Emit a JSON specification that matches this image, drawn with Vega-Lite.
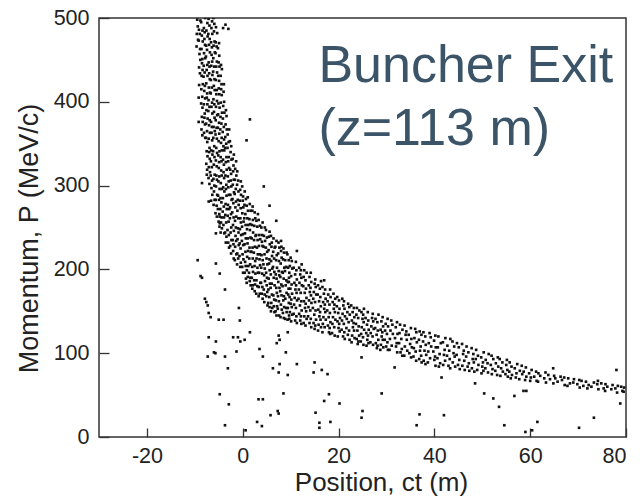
{
"$schema":"https://vega.github.io/schema/vega-lite/v6.json",
"width":527,"height":419,
"autosize":{"type":"none"},
"padding":{"left":99,"top":18,"right":14,"bottom":60},
"background":"white",
"config":{"view":{"stroke":"#333","strokeWidth":1.5},"axis":{"labelFont":"Liberation Sans","labelFontSize":21.5,"labelColor":"#222","titleFont":"Liberation Sans","titleFontSize":26,"titleFontWeight":"normal","titleColor":"#222","domain":false,"grid":false,"tickColor":"#333","tickWidth":1.3}},
"datasets":{"pts":[
{"x":-9.5,"y":498},{"x":-9.38,"y":490},{"x":-9.58,"y":481},{"x":-9.33,"y":474},{"x":-9.64,"y":466},
{"x":-8.83,"y":497},{"x":-9.14,"y":486},{"x":-8.95,"y":481},{"x":-9.18,"y":473},{"x":-8.9,"y":463},{"x":-9.03,"y":457},{"x":-8.85,"y":450},{"x":-9.11,"y":441},{"x":-8.93,"y":434},{"x":-9.2,"y":376},{"x":-9.1,"y":420},{"x":-9.2,"y":405},
{"x":-8.68,"y":495},{"x":-8.4,"y":485},{"x":-8.53,"y":479},{"x":-8.35,"y":472},{"x":-8.61,"y":463},{"x":-8.43,"y":451},{"x":-8.5,"y":446},{"x":-8.38,"y":438},{"x":-8.58,"y":431},{"x":-8.33,"y":421},{"x":-8.64,"y":415},{"x":-8.45,"y":406},{"x":-8.68,"y":398},{"x":-8.4,"y":393},{"x":-8.53,"y":382},{"x":-8.35,"y":376},{"x":-8.61,"y":367},{"x":-8.43,"y":360},
{"x":-7.85,"y":500},{"x":-8.11,"y":488},{"x":-7.93,"y":483},{"x":-8,"y":475},{"x":-7.88,"y":468},{"x":-8.08,"y":458},{"x":-7.83,"y":452},{"x":-8.14,"y":443},{"x":-7.95,"y":435},{"x":-8.18,"y":430},{"x":-7.9,"y":419},{"x":-8.03,"y":413},{"x":-7.85,"y":404},{"x":-8.11,"y":397},{"x":-7.93,"y":386},{"x":-8,"y":381},{"x":-7.88,"y":373},{"x":-8.08,"y":363},{"x":-7.83,"y":357},
{"x":-7.38,"y":494},{"x":-7.58,"y":485},{"x":-7.33,"y":478},{"x":-7.64,"y":467},{"x":-7.45,"y":462},{"x":-7.68,"y":454},{"x":-7.4,"y":444},{"x":-7.53,"y":438},{"x":-7.35,"y":431},{"x":-7.61,"y":422},{"x":-7.43,"y":410},{"x":-7.5,"y":405},{"x":-7.38,"y":397},{"x":-7.58,"y":390},{"x":-7.33,"y":380},{"x":-7.64,"y":374},{"x":-7.45,"y":365},{"x":-7.68,"y":357},{"x":-7.4,"y":352},{"x":-7.53,"y":341},{"x":-7.35,"y":335},{"x":-7.61,"y":326},{"x":-7.43,"y":319},{"x":-7.5,"y":313},
{"x":-7.14,"y":499},{"x":-6.95,"y":491},{"x":-7.18,"y":481},{"x":-6.9,"y":475},{"x":-7.03,"y":468},{"x":-6.85,"y":459},{"x":-7.11,"y":447},{"x":-6.93,"y":442},{"x":-7,"y":434},{"x":-6.88,"y":427},{"x":-7.08,"y":417},{"x":-6.83,"y":411},{"x":-7.14,"y":402},{"x":-6.95,"y":394},{"x":-7.18,"y":389},{"x":-6.9,"y":378},{"x":-7.03,"y":372},{"x":-6.85,"y":363},{"x":-7.11,"y":356},{"x":-6.93,"y":345},{"x":-7,"y":340},{"x":-6.88,"y":332},{"x":-7.08,"y":322},{"x":-6.83,"y":316},{"x":-7.14,"y":309},{"x":-6.95,"y":302},
{"x":-6.4,"y":496},{"x":-6.53,"y":488},{"x":-6.35,"y":481},{"x":-6.61,"y":471},{"x":-6.43,"y":465},{"x":-6.5,"y":456},{"x":-6.38,"y":448},{"x":-6.58,"y":443},{"x":-6.33,"y":432},{"x":-6.64,"y":426},{"x":-6.45,"y":417},{"x":-6.68,"y":410},{"x":-6.4,"y":399},{"x":-6.53,"y":394},{"x":-6.35,"y":386},{"x":-6.61,"y":376},{"x":-6.43,"y":370},{"x":-6.5,"y":363},{"x":-6.38,"y":354},{"x":-6.58,"y":342},{"x":-6.33,"y":337},{"x":-6.64,"y":329},{"x":-6.45,"y":322},{"x":-6.68,"y":312},{"x":-6.4,"y":306},{"x":-6.53,"y":297},{"x":-6.35,"y":289},{"x":-6.61,"y":282},
{"x":-6.11,"y":500},{"x":-5.93,"y":493},{"x":-6,"y":484},{"x":-5.88,"y":472},{"x":-6.08,"y":467},{"x":-5.83,"y":459},{"x":-6.14,"y":452},{"x":-5.95,"y":442},{"x":-6.18,"y":436},{"x":-5.9,"y":427},{"x":-6.03,"y":419},{"x":-5.85,"y":414},{"x":-6.11,"y":403},{"x":-5.93,"y":397},{"x":-6,"y":388},{"x":-5.88,"y":381},{"x":-6.08,"y":370},{"x":-5.83,"y":365},{"x":-6.14,"y":357},{"x":-5.95,"y":347},{"x":-6.18,"y":341},{"x":-5.9,"y":334},{"x":-6.03,"y":325},{"x":-5.85,"y":313},{"x":-6.11,"y":308},{"x":-5.93,"y":300},{"x":-6,"y":293},{"x":-5.88,"y":283},{"x":-6.08,"y":277},
{"x":-5.58,"y":489},{"x":-5.33,"y":482},{"x":-5.64,"y":471},{"x":-5.45,"y":466},{"x":-5.68,"y":458},{"x":-5.4,"y":448},{"x":-5.53,"y":442},{"x":-5.35,"y":435},{"x":-5.61,"y":426},{"x":-5.43,"y":414},{"x":-5.5,"y":409},{"x":-5.38,"y":401},{"x":-5.58,"y":394},{"x":-5.33,"y":384},{"x":-5.64,"y":378},{"x":-5.45,"y":369},{"x":-5.68,"y":361},{"x":-5.4,"y":356},{"x":-5.53,"y":345},{"x":-5.35,"y":339},{"x":-5.61,"y":330},{"x":-5.43,"y":323},{"x":-5.5,"y":312},{"x":-5.38,"y":307},{"x":-5.58,"y":299},{"x":-5.33,"y":289},{"x":-5.64,"y":283},{"x":-5.45,"y":276},{"x":-5.68,"y":267},{"x":-5.4,"y":263},
{"x":-4.95,"y":470},{"x":-5.18,"y":464},{"x":-4.9,"y":455},{"x":-5.03,"y":447},{"x":-4.85,"y":442},{"x":-5.11,"y":431},{"x":-4.93,"y":425},{"x":-5,"y":416},{"x":-4.88,"y":409},{"x":-5.08,"y":398},{"x":-4.83,"y":393},{"x":-5.14,"y":385},{"x":-4.95,"y":375},{"x":-5.18,"y":369},{"x":-4.9,"y":362},{"x":-5.03,"y":353},{"x":-4.85,"y":341},{"x":-5.11,"y":336},{"x":-4.93,"y":328},{"x":-5,"y":321},{"x":-4.88,"y":311},{"x":-5.08,"y":305},{"x":-4.83,"y":296},{"x":-5.14,"y":288},{"x":-4.95,"y":283},{"x":-5.18,"y":272},{"x":-4.9,"y":266},{"x":-5.03,"y":257},{"x":-4.85,"y":251},
{"x":-4.53,"y":444},{"x":-4.35,"y":439},{"x":-4.61,"y":431},{"x":-4.43,"y":421},{"x":-4.5,"y":415},{"x":-4.38,"y":408},{"x":-4.58,"y":399},{"x":-4.33,"y":387},{"x":-4.64,"y":382},{"x":-4.45,"y":374},{"x":-4.68,"y":367},{"x":-4.4,"y":357},{"x":-4.53,"y":351},{"x":-4.35,"y":342},{"x":-4.61,"y":334},{"x":-4.43,"y":329},{"x":-4.5,"y":318},{"x":-4.38,"y":312},{"x":-4.58,"y":303},{"x":-4.33,"y":296},{"x":-4.64,"y":285},{"x":-4.45,"y":280},{"x":-4.68,"y":272},{"x":-4.4,"y":262},{"x":-4.53,"y":256},{"x":-4.35,"y":249},{"x":-4.61,"y":244},
{"x":-3.93,"y":421},{"x":-4,"y":412},{"x":-3.88,"y":400},{"x":-4.08,"y":395},{"x":-3.83,"y":387},{"x":-4.14,"y":380},{"x":-3.95,"y":370},{"x":-4.18,"y":364},{"x":-3.9,"y":355},{"x":-4.03,"y":347},{"x":-3.85,"y":342},{"x":-4.11,"y":331},{"x":-3.93,"y":325},{"x":-4,"y":316},{"x":-3.88,"y":309},{"x":-4.08,"y":298},{"x":-3.83,"y":293},{"x":-4.14,"y":285},{"x":-3.95,"y":275},{"x":-4.18,"y":269},{"x":-3.9,"y":262},{"x":-4.03,"y":253},{"x":-3.85,"y":243},
{"x":-3.5,"y":390},{"x":-3.38,"y":383},{"x":-3.58,"y":373},{"x":-3.33,"y":367},{"x":-3.64,"y":358},{"x":-3.45,"y":350},{"x":-3.68,"y":345},{"x":-3.4,"y":334},{"x":-3.53,"y":328},{"x":-3.35,"y":319},{"x":-3.61,"y":312},{"x":-3.43,"y":301},{"x":-3.5,"y":296},{"x":-3.38,"y":288},{"x":-3.58,"y":278},{"x":-3.33,"y":272},{"x":-3.64,"y":265},{"x":-3.45,"y":256},{"x":-3.68,"y":244},{"x":-3.4,"y":239},{"x":-3.53,"y":232},
{"x":-2.83,"y":367},{"x":-3.14,"y":361},{"x":-2.95,"y":352},{"x":-3.18,"y":345},{"x":-2.9,"y":334},{"x":-3.03,"y":329},{"x":-2.85,"y":321},{"x":-3.11,"y":311},{"x":-2.93,"y":305},{"x":-3,"y":298},{"x":-2.88,"y":289},{"x":-3.08,"y":277},{"x":-2.83,"y":272},{"x":-3.14,"y":264},{"x":-2.95,"y":257},{"x":-3.18,"y":247},{"x":-2.9,"y":241},{"x":-3.03,"y":232},{"x":-2.85,"y":226},
{"x":-2.68,"y":353},{"x":-2.4,"y":347},{"x":-2.53,"y":340},{"x":-2.35,"y":331},{"x":-2.61,"y":319},{"x":-2.43,"y":314},{"x":-2.5,"y":306},{"x":-2.38,"y":299},{"x":-2.58,"y":289},{"x":-2.33,"y":283},{"x":-2.64,"y":274},{"x":-2.45,"y":266},{"x":-2.68,"y":261},{"x":-2.4,"y":250},{"x":-2.53,"y":244},{"x":-2.35,"y":235},{"x":-2.61,"y":228},{"x":-2.43,"y":219},
{"x":-1.85,"y":337},{"x":-2.11,"y":332},{"x":-1.93,"y":324},{"x":-2,"y":317},{"x":-1.88,"y":307},{"x":-2.08,"y":301},{"x":-1.83,"y":292},{"x":-2.14,"y":284},{"x":-1.95,"y":279},{"x":-2.18,"y":268},{"x":-1.9,"y":262},{"x":-2.03,"y":253},{"x":-1.85,"y":246},{"x":-2.11,"y":235},{"x":-1.93,"y":230},{"x":-2,"y":222},{"x":-1.88,"y":213},
{"x":-1.38,"y":329},{"x":-1.58,"y":320},{"x":-1.33,"y":312},{"x":-1.64,"y":307},{"x":-1.45,"y":296},{"x":-1.68,"y":290},{"x":-1.4,"y":281},{"x":-1.53,"y":274},{"x":-1.35,"y":263},{"x":-1.61,"y":258},{"x":-1.43,"y":250},{"x":-1.5,"y":240},{"x":-1.38,"y":234},{"x":-1.58,"y":227},{"x":-1.33,"y":218},{"x":-1.64,"y":211},
{"x":-1.14,"y":317},{"x":-0.95,"y":306},{"x":-1.18,"y":301},{"x":-0.9,"y":293},{"x":-1.03,"y":283},{"x":-0.85,"y":277},{"x":-1.11,"y":270},{"x":-0.93,"y":261},{"x":-1,"y":249},{"x":-0.88,"y":244},{"x":-1.08,"y":236},{"x":-0.83,"y":229},{"x":-1.14,"y":219},{"x":-0.95,"y":213},{"x":-1.18,"y":206},
{"x":-0.4,"y":305},{"x":-0.53,"y":295},{"x":-0.35,"y":289},{"x":-0.61,"y":282},{"x":-0.43,"y":273},{"x":-0.5,"y":261},{"x":-0.38,"y":256},{"x":-0.58,"y":248},{"x":-0.33,"y":241},{"x":-0.64,"y":231},{"x":-0.45,"y":225},{"x":-0.68,"y":216},{"x":-0.4,"y":208},{"x":-0.53,"y":203},
{"x":-0.11,"y":299},{"x":0.07,"y":287},{"x":0,"y":282},{"x":0.12,"y":274},{"x":-0.08,"y":267},{"x":0.17,"y":257},{"x":-0.14,"y":251},{"x":0.05,"y":242},{"x":-0.18,"y":234},{"x":0.1,"y":229},{"x":-0.03,"y":218},{"x":0.15,"y":212},{"x":-0.11,"y":203},{"x":0.07,"y":196},
{"x":0.42,"y":293},{"x":0.67,"y":284},{"x":0.36,"y":277},{"x":0.55,"y":266},{"x":0.32,"y":261},{"x":0.6,"y":253},{"x":0.47,"y":243},{"x":0.65,"y":237},{"x":0.39,"y":230},{"x":0.57,"y":221},{"x":0.5,"y":209},{"x":0.62,"y":204},{"x":0.42,"y":196},{"x":0.67,"y":189},
{"x":1.05,"y":286},{"x":0.82,"y":276},{"x":1.1,"y":270},{"x":0.97,"y":261},{"x":1.15,"y":253},{"x":0.89,"y":248},{"x":1.07,"y":237},{"x":1,"y":231},{"x":1.12,"y":222},{"x":0.92,"y":215},{"x":1.17,"y":204},{"x":0.86,"y":199},{"x":1.05,"y":191},{"x":0.82,"y":184},
{"x":1.47,"y":278},{"x":1.65,"y":270},{"x":1.39,"y":260},{"x":1.57,"y":254},{"x":1.5,"y":247},{"x":1.62,"y":238},{"x":1.42,"y":226},{"x":1.67,"y":221},{"x":1.36,"y":213},{"x":1.55,"y":206},{"x":1.32,"y":196},{"x":1.6,"y":190},{"x":1.47,"y":186},{"x":1.65,"y":181},
{"x":2.07,"y":275},{"x":2,"y":270},{"x":2.12,"y":259},{"x":1.92,"y":253},{"x":2.17,"y":244},{"x":1.86,"y":237},{"x":2.05,"y":226},{"x":1.82,"y":221},{"x":2.1,"y":213},{"x":1.97,"y":203},{"x":2.15,"y":197},{"x":1.89,"y":190},{"x":2.07,"y":181},{"x":2,"y":177},
{"x":2.5,"y":268},{"x":2.62,"y":261},{"x":2.42,"y":252},{"x":2.67,"y":240},{"x":2.36,"y":235},{"x":2.55,"y":227},{"x":2.32,"y":220},{"x":2.6,"y":210},{"x":2.47,"y":204},{"x":2.65,"y":195},{"x":2.39,"y":187},{"x":2.57,"y":182},{"x":2.5,"y":174},
{"x":3.17,"y":266},{"x":2.86,"y":258},{"x":3.05,"y":251},{"x":2.82,"y":241},{"x":3.1,"y":235},{"x":2.97,"y":226},{"x":3.15,"y":218},{"x":2.89,"y":213},{"x":3.07,"y":202},{"x":3.17,"y":196},{"x":2.86,"y":187},{"x":3.05,"y":180},{"x":2.82,"y":171},
{"x":3.32,"y":259},{"x":3.6,"y":252},{"x":3.47,"y":241},{"x":3.65,"y":236},{"x":3.39,"y":228},{"x":3.57,"y":218},{"x":3.5,"y":212},{"x":3.62,"y":205},{"x":3.42,"y":196},{"x":3.67,"y":184},{"x":3.36,"y":179},{"x":3.55,"y":171},{"x":3.32,"y":168},
{"x":4.15,"y":256},{"x":3.89,"y":250},{"x":4.07,"y":241},{"x":4,"y":233},{"x":4.12,"y":228},{"x":3.92,"y":217},{"x":4.17,"y":211},{"x":3.86,"y":202},{"x":4.05,"y":195},{"x":3.82,"y":184},{"x":4.1,"y":179},{"x":3.97,"y":171},{"x":4.15,"y":165},
{"x":4.62,"y":250},{"x":4.42,"y":240},{"x":4.67,"y":234},{"x":4.36,"y":227},{"x":4.55,"y":218},{"x":4.32,"y":206},{"x":4.6,"y":201},{"x":4.47,"y":193},{"x":4.65,"y":186},{"x":4.39,"y":176},{"x":4.57,"y":170},{"x":4.5,"y":161},
{"x":4.86,"y":247},{"x":5.05,"y":238},{"x":4.82,"y":226},{"x":5.1,"y":221},{"x":4.97,"y":213},{"x":5.15,"y":206},{"x":4.89,"y":196},{"x":5.07,"y":190},{"x":5,"y":181},{"x":5.12,"y":173},{"x":4.92,"y":168},{"x":5.17,"y":157},
{"x":5.6,"y":245},{"x":5.47,"y":239},{"x":5.65,"y":230},{"x":5.39,"y":223},{"x":5.57,"y":212},{"x":5.5,"y":207},{"x":5.62,"y":199},{"x":5.42,"y":189},{"x":5.67,"y":183},{"x":5.36,"y":176},{"x":5.55,"y":167},{"x":5.32,"y":160},{"x":5.6,"y":155},
{"x":5.89,"y":240},{"x":6.07,"y":232},{"x":6,"y":227},{"x":6.12,"y":216},{"x":5.92,"y":210},{"x":6.17,"y":201},{"x":5.86,"y":194},{"x":6.05,"y":183},{"x":5.82,"y":178},{"x":6.1,"y":170},{"x":5.97,"y":160},{"x":6.15,"y":154},{"x":5.89,"y":150},
{"x":6.42,"y":237},{"x":6.67,"y":226},{"x":6.36,"y":221},{"x":6.55,"y":213},{"x":6.32,"y":203},{"x":6.6,"y":197},{"x":6.47,"y":190},{"x":6.65,"y":181},{"x":6.39,"y":169},{"x":6.57,"y":164},{"x":6.5,"y":156},{"x":6.62,"y":149},
{"x":7.05,"y":234},{"x":6.82,"y":227},{"x":7.1,"y":217},{"x":6.97,"y":211},{"x":7.15,"y":202},{"x":6.89,"y":194},{"x":7.07,"y":189},{"x":7,"y":178},{"x":7.12,"y":172},{"x":6.92,"y":163},{"x":7.17,"y":156},{"x":6.86,"y":150},{"x":7.05,"y":145},
{"x":7.47,"y":232},{"x":7.65,"y":226},{"x":7.39,"y":219},{"x":7.57,"y":210},{"x":7.5,"y":198},{"x":7.62,"y":193},{"x":7.42,"y":185},{"x":7.67,"y":178},{"x":7.36,"y":168},{"x":7.55,"y":162},{"x":7.32,"y":153},{"x":7.6,"y":145},
{"x":8.07,"y":227},{"x":8,"y":222},{"x":8.12,"y":214},{"x":7.92,"y":207},{"x":8.17,"y":197},{"x":7.86,"y":191},{"x":8.05,"y":182},{"x":7.82,"y":174},{"x":8.1,"y":169},{"x":7.97,"y":158},{"x":8.15,"y":152},{"x":7.89,"y":143},
{"x":8.5,"y":225},{"x":8.62,"y":220},{"x":8.42,"y":212},{"x":8.67,"y":202},{"x":8.36,"y":196},{"x":8.55,"y":189},{"x":8.32,"y":180},{"x":8.6,"y":168},{"x":8.47,"y":163},{"x":8.65,"y":155},{"x":8.39,"y":148},{"x":8.57,"y":142},
{"x":9.17,"y":220},{"x":8.86,"y":211},{"x":9.05,"y":203},{"x":8.82,"y":198},{"x":9.1,"y":187},{"x":8.97,"y":181},{"x":9.15,"y":172},{"x":8.89,"y":165},{"x":9.07,"y":154},{"x":9.17,"y":149},{"x":8.86,"y":141},
{"x":9.32,"y":218},{"x":9.6,"y":211},{"x":9.47,"y":202},{"x":9.65,"y":190},{"x":9.39,"y":185},{"x":9.57,"y":177},{"x":9.5,"y":170},{"x":9.62,"y":160},{"x":9.42,"y":154},{"x":9.67,"y":145},{"x":9.36,"y":140},
{"x":10,"y":214},{"x":10.24,"y":210},{"x":9.84,"y":204},{"x":10.34,"y":201},{"x":9.72,"y":196},{"x":10.1,"y":192},{"x":9.64,"y":185},{"x":10.2,"y":182},{"x":9.94,"y":177},{"x":10.3,"y":171},{"x":9.78,"y":167},{"x":10.14,"y":164},{"x":10,"y":159},{"x":10.24,"y":155},{"x":9.84,"y":149},{"x":10.34,"y":146},{"x":9.72,"y":141},{"x":10.1,"y":138},
{"x":11.1,"y":209},{"x":10.64,"y":202},{"x":11.2,"y":199},{"x":10.94,"y":194},{"x":11.3,"y":188},{"x":10.78,"y":184},{"x":11.14,"y":181},{"x":11,"y":176},{"x":11.24,"y":172},{"x":10.84,"y":166},{"x":11.34,"y":163},{"x":10.72,"y":158},{"x":11.1,"y":154},{"x":10.64,"y":147},{"x":11.2,"y":144},{"x":10.94,"y":139},{"x":11.3,"y":136},
{"x":12.3,"y":206},{"x":11.78,"y":202},{"x":12.14,"y":199},{"x":12,"y":194},{"x":12.24,"y":190},{"x":11.84,"y":184},{"x":12.34,"y":181},{"x":11.72,"y":176},{"x":12.1,"y":172},{"x":11.64,"y":165},{"x":12.2,"y":162},{"x":11.94,"y":157},{"x":12.3,"y":151},{"x":11.78,"y":147},{"x":12.14,"y":144},{"x":12,"y":139},{"x":12.24,"y":135},
{"x":12.84,"y":199},{"x":13.34,"y":196},{"x":12.72,"y":191},{"x":13.1,"y":187},{"x":12.64,"y":180},{"x":13.2,"y":177},{"x":12.94,"y":172},{"x":13.3,"y":166},{"x":12.78,"y":162},{"x":13.14,"y":159},{"x":13,"y":154},{"x":13.24,"y":150},{"x":12.84,"y":144},{"x":13.34,"y":141},{"x":12.72,"y":136},{"x":13.1,"y":133},
{"x":14.2,"y":196},{"x":13.94,"y":191},{"x":14.3,"y":185},{"x":13.78,"y":181},{"x":14.14,"y":178},{"x":14,"y":173},{"x":14.24,"y":169},{"x":13.84,"y":163},{"x":14.34,"y":160},{"x":13.72,"y":155},{"x":14.1,"y":151},{"x":13.64,"y":144},{"x":14.2,"y":141},{"x":13.94,"y":136},{"x":14.3,"y":131},
{"x":15.14,"y":188},{"x":15,"y":183},{"x":15.24,"y":179},{"x":14.84,"y":173},{"x":15.34,"y":170},{"x":14.72,"y":165},{"x":15.1,"y":161},{"x":14.64,"y":154},{"x":15.2,"y":151},{"x":14.94,"y":146},{"x":15.3,"y":140},{"x":14.78,"y":136},{"x":15.14,"y":133},{"x":15,"y":129},
{"x":16.34,"y":186},{"x":15.72,"y":181},{"x":16.1,"y":177},{"x":15.64,"y":170},{"x":16.2,"y":167},{"x":15.94,"y":162},{"x":16.3,"y":156},{"x":15.78,"y":152},{"x":16.14,"y":149},{"x":16,"y":144},{"x":16.24,"y":140},{"x":15.84,"y":134},{"x":16.34,"y":131},{"x":15.72,"y":127},
{"x":16.64,"y":179},{"x":17.2,"y":176},{"x":16.94,"y":171},{"x":17.3,"y":165},{"x":16.78,"y":161},{"x":17.14,"y":158},{"x":17,"y":153},{"x":17.24,"y":149},{"x":16.84,"y":143},{"x":17.34,"y":140},{"x":16.72,"y":135},{"x":17.1,"y":131},{"x":16.64,"y":125},
{"x":18.24,"y":176},{"x":17.84,"y":170},{"x":18.34,"y":167},{"x":17.72,"y":162},{"x":18.1,"y":158},{"x":17.64,"y":151},{"x":18.2,"y":148},{"x":17.94,"y":143},{"x":18.3,"y":137},{"x":17.78,"y":133},{"x":18.14,"y":130},{"x":18,"y":125},{"x":18.24,"y":123},
{"x":18.94,"y":171},{"x":19.3,"y":165},{"x":18.78,"y":161},{"x":19.14,"y":158},{"x":19,"y":153},{"x":19.24,"y":149},{"x":18.84,"y":143},{"x":19.34,"y":140},{"x":18.72,"y":135},{"x":19.1,"y":131},{"x":18.64,"y":124},{"x":19.2,"y":121},
{"x":19.72,"y":167},{"x":20.1,"y":163},{"x":19.64,"y":156},{"x":20.2,"y":153},{"x":19.94,"y":148},{"x":20.3,"y":142},{"x":19.78,"y":138},{"x":20.14,"y":135},{"x":20,"y":130},{"x":20.24,"y":126},{"x":19.84,"y":120},
{"x":20.78,"y":165},{"x":21.14,"y":162},{"x":21,"y":157},{"x":21.24,"y":153},{"x":20.84,"y":147},{"x":21.34,"y":144},{"x":20.72,"y":139},{"x":21.1,"y":135},{"x":20.64,"y":128},{"x":21.2,"y":125},{"x":20.94,"y":120},{"x":21.3,"y":117},
{"x":22,"y":159},{"x":22.24,"y":155},{"x":21.84,"y":149},{"x":22.34,"y":146},{"x":21.72,"y":141},{"x":22.1,"y":137},{"x":21.64,"y":130},{"x":22.2,"y":127},{"x":21.94,"y":122},{"x":22.3,"y":116},
{"x":22.64,"y":157},{"x":23.2,"y":154},{"x":22.94,"y":149},{"x":23.3,"y":143},{"x":22.78,"y":139},{"x":23.14,"y":136},{"x":23,"y":131},{"x":23.24,"y":127},{"x":22.84,"y":121},{"x":23.34,"y":118},{"x":22.72,"y":113},
{"x":23.84,"y":154},{"x":24.34,"y":151},{"x":23.72,"y":146},{"x":24.1,"y":142},{"x":23.64,"y":135},{"x":24.2,"y":132},{"x":23.94,"y":127},{"x":24.3,"y":121},{"x":23.78,"y":117},{"x":24.14,"y":114},{"x":24,"y":111},
{"x":25.3,"y":153},{"x":24.78,"y":149},{"x":25.14,"y":146},{"x":25,"y":141},{"x":25.24,"y":137},{"x":24.84,"y":131},{"x":25.34,"y":128},{"x":24.72,"y":123},{"x":25.1,"y":119},{"x":24.64,"y":114},{"x":25.2,"y":110},
{"x":26.1,"y":149},{"x":25.64,"y":142},{"x":26.2,"y":139},{"x":25.94,"y":134},{"x":26.3,"y":128},{"x":25.78,"y":124},{"x":26.14,"y":121},{"x":26,"y":116},{"x":26.24,"y":112},{"x":25.84,"y":109},
{"x":27.14,"y":147},{"x":27,"y":142},{"x":27.24,"y":138},{"x":26.84,"y":132},{"x":27.34,"y":129},{"x":26.72,"y":124},{"x":27.1,"y":120},{"x":26.64,"y":113},{"x":27.2,"y":110},
{"x":28.34,"y":146},{"x":27.72,"y":141},{"x":28.1,"y":137},{"x":27.64,"y":130},{"x":28.2,"y":127},{"x":27.94,"y":122},{"x":28.3,"y":116},{"x":27.78,"y":112},{"x":28.14,"y":109},{"x":28,"y":106},
{"x":29.2,"y":143},{"x":28.94,"y":138},{"x":29.3,"y":132},{"x":28.78,"y":128},{"x":29.14,"y":125},{"x":29,"y":120},{"x":29.24,"y":116},{"x":28.84,"y":110},{"x":29.34,"y":107},{"x":28.72,"y":104},
{"x":30.24,"y":141},{"x":29.84,"y":135},{"x":30.34,"y":132},{"x":29.72,"y":127},{"x":30.1,"y":123},{"x":29.64,"y":116},{"x":30.2,"y":113},{"x":29.94,"y":108},{"x":30.3,"y":104},
{"x":31,"y":139},{"x":31.24,"y":134},{"x":30.84,"y":127},{"x":31.34,"y":123},{"x":30.72,"y":117},{"x":31.1,"y":109},{"x":30.64,"y":104},
{"x":32.2,"y":137},{"x":31.94,"y":131},{"x":32.3,"y":123},{"x":31.78,"y":118},{"x":32.14,"y":112},{"x":32,"y":108},{"x":32.24,"y":101},
{"x":32.84,"y":134},{"x":33.34,"y":128},{"x":32.72,"y":124},{"x":33.1,"y":117},{"x":32.64,"y":112},{"x":33.2,"y":105},{"x":32.94,"y":101},{"x":33.3,"y":97},
{"x":33.78,"y":133},{"x":34.14,"y":126},{"x":34,"y":122},{"x":34.24,"y":116},{"x":33.84,"y":108},{"x":34.34,"y":103},{"x":33.72,"y":97},
{"x":35.1,"y":130},{"x":34.64,"y":122},{"x":35.2,"y":117},{"x":34.94,"y":111},{"x":35.3,"y":107},{"x":34.78,"y":100},{"x":35.14,"y":95},
{"x":36,"y":129},{"x":36.24,"y":125},{"x":35.84,"y":118},{"x":36.34,"y":113},{"x":35.72,"y":106},{"x":36.1,"y":102},{"x":35.64,"y":96},{"x":36.2,"y":91},
{"x":36.94,"y":126},{"x":37.3,"y":122},{"x":36.78,"y":116},{"x":37.14,"y":108},{"x":37,"y":103},{"x":37.24,"y":97},{"x":36.84,"y":93},{"x":37.34,"y":89},
{"x":37.72,"y":125},{"x":38.1,"y":120},{"x":37.64,"y":114},{"x":38.2,"y":110},{"x":37.94,"y":103},{"x":38.3,"y":98},{"x":37.78,"y":91},{"x":38.14,"y":87},
{"x":39,"y":124},{"x":39.24,"y":119},{"x":38.84,"y":112},{"x":39.34,"y":108},{"x":38.72,"y":102},{"x":39.1,"y":94},{"x":38.64,"y":89},
{"x":40.2,"y":121},{"x":39.94,"y":115},{"x":40.3,"y":107},{"x":39.78,"y":102},{"x":40.14,"y":96},{"x":40,"y":92},{"x":40.24,"y":85},
{"x":40.84,"y":120},{"x":41.34,"y":112},{"x":40.72,"y":107},{"x":41.1,"y":99},{"x":40.64,"y":94},{"x":41.2,"y":88},{"x":40.94,"y":84},
{"x":42.3,"y":118},{"x":41.78,"y":113},{"x":42.14,"y":104},{"x":42,"y":98},{"x":42.24,"y":91},{"x":41.84,"y":86},
{"x":43.34,"y":117},{"x":42.72,"y":109},{"x":43.1,"y":103},{"x":42.64,"y":97},{"x":43.2,"y":93},{"x":42.94,"y":85},{"x":43.3,"y":82},
{"x":43.78,"y":114},{"x":44.14,"y":108},{"x":44,"y":100},{"x":44.24,"y":96},{"x":43.84,"y":89},{"x":44.34,"y":84},
{"x":44.72,"y":112},{"x":45.1,"y":107},{"x":44.64,"y":98},{"x":45.2,"y":92},{"x":44.94,"y":86},{"x":45.3,"y":81},
{"x":45.78,"y":111},{"x":46.14,"y":103},{"x":46,"y":99},{"x":46.24,"y":91},{"x":45.84,"y":85},{"x":46.34,"y":80},
{"x":46.72,"y":108},{"x":47.1,"y":101},{"x":46.64,"y":96},{"x":47.2,"y":88},{"x":46.94,"y":84},{"x":47.3,"y":79},
{"x":47.78,"y":106},{"x":48.14,"y":99},{"x":48,"y":93},{"x":48.24,"y":89},{"x":47.84,"y":82},{"x":48.34,"y":78},
{"x":48.72,"y":104},{"x":49.1,"y":97},{"x":48.64,"y":93},{"x":49.2,"y":86},{"x":48.94,"y":80},
{"x":50.3,"y":101},{"x":49.78,"y":95},{"x":50.14,"y":89},{"x":50,"y":84},{"x":50.24,"y":79},{"x":49.84,"y":76},
{"x":51.34,"y":99},{"x":50.72,"y":92},{"x":51.1,"y":88},{"x":50.64,"y":82},{"x":51.2,"y":77},
{"x":51.94,"y":97},{"x":52.3,"y":93},{"x":51.78,"y":86},{"x":52.14,"y":81},{"x":52,"y":75},
{"x":53.24,"y":95},{"x":52.84,"y":88},{"x":53.34,"y":84},{"x":52.72,"y":79},{"x":53.1,"y":74},
{"x":53.64,"y":93},{"x":54.2,"y":89},{"x":53.94,"y":82},{"x":54.3,"y":78},{"x":53.78,"y":73},
{"x":55.14,"y":92},{"x":55,"y":86},{"x":55.24,"y":80},{"x":54.84,"y":75},{"x":55.34,"y":72},
{"x":55.72,"y":89},{"x":56.1,"y":84},{"x":55.64,"y":78},{"x":56.2,"y":74},{"x":55.94,"y":70},
{"x":57.3,"y":87},{"x":56.78,"y":82},{"x":57.14,"y":76},{"x":57,"y":71},
{"x":58.24,"y":85},{"x":57.84,"y":79},{"x":58.34,"y":75},{"x":57.72,"y":69},
{"x":59.1,"y":83},{"x":58.64,"y":78},{"x":59.2,"y":72},{"x":58.94,"y":68},
{"x":60.3,"y":80},{"x":59.78,"y":76},{"x":60.14,"y":71},{"x":60,"y":67},
{"x":61.24,"y":78},{"x":60.84,"y":72},{"x":61.34,"y":67},
{"x":61.72,"y":76},{"x":62.1,"y":73},{"x":61.64,"y":66},
{"x":63.2,"y":77},{"x":62.94,"y":70},{"x":63.3,"y":65},
{"x":63.78,"y":74},{"x":64.14,"y":69},
{"x":65,"y":73},{"x":65.24,"y":70},{"x":64.84,"y":64},
{"x":66.34,"y":72},{"x":65.72,"y":66},
{"x":67.1,"y":71},{"x":66.64,"y":68},{"x":67.2,"y":62},
{"x":67.94,"y":70},{"x":68.3,"y":64},{"x":67.78,"y":61},
{"x":69.14,"y":69},{"x":69,"y":65},
{"x":70.24,"y":68},{"x":69.84,"y":63},{"x":70.34,"y":59},
{"x":70.72,"y":67},{"x":71.1,"y":61},
{"x":71.64,"y":66},{"x":72.2,"y":62},{"x":71.94,"y":58},
{"x":73.3,"y":65},{"x":72.78,"y":60},
{"x":74.14,"y":67},{"x":74,"y":63},{"x":74.24,"y":57},
{"x":74.84,"y":64},{"x":75.34,"y":58},
{"x":75.72,"y":63},{"x":76.1,"y":60},{"x":75.64,"y":55},
{"x":77.2,"y":62},{"x":76.94,"y":57},
{"x":78.3,"y":61},{"x":77.78,"y":58},{"x":78.14,"y":53},
{"x":79,"y":60},{"x":79.24,"y":55},
{"x":79.6,"y":59},{"x":79.5,"y":54},
{"x":-7.1,"y":281},{"x":-4.8,"y":263},{"x":-4.8,"y":255},{"x":-5.6,"y":243},{"x":-9.4,"y":211},{"x":-5.6,"y":207},{"x":-4.8,"y":195},{"x":-8.5,"y":190},{"x":-8.8,"y":192},{"x":-3.7,"y":176},{"x":-7.9,"y":165},{"x":-7.6,"y":161},{"x":-7.3,"y":157},{"x":-7.1,"y":148},{"x":-6.7,"y":143},{"x":-5,"y":140},{"x":-4,"y":140},{"x":-0.8,"y":154},{"x":-0.6,"y":139},{"x":-7.1,"y":119},{"x":-5.6,"y":114},{"x":-2,"y":119},{"x":-1,"y":119},{"x":0.4,"y":116},{"x":-0.5,"y":114},{"x":1.5,"y":125},{"x":-6,"y":101},{"x":-5.7,"y":100},{"x":-7.3,"y":96},{"x":-3.7,"y":96},{"x":-1.3,"y":102},{"x":-3.1,"y":82},{"x":-4.8,"y":51},{"x":-2.9,"y":39},{"x":-3.7,"y":14},{"x":0.6,"y":8},{"x":3.5,"y":105},{"x":4.2,"y":96},{"x":7.1,"y":112},{"x":7.7,"y":116},{"x":7.5,"y":121},{"x":9.4,"y":125},{"x":9,"y":101},{"x":6.3,"y":82},{"x":7.7,"y":87},{"x":7.5,"y":77},{"x":9.4,"y":74},{"x":11.3,"y":87},{"x":15,"y":89},{"x":14.8,"y":77},{"x":16.5,"y":80},{"x":17.7,"y":75},{"x":3.3,"y":45},{"x":4.2,"y":45},{"x":8.5,"y":52},{"x":5.8,"y":26},{"x":7.3,"y":31},{"x":7.5,"y":28},{"x":3,"y":18},{"x":4,"y":13},{"x":15.2,"y":29},{"x":16,"y":17},{"x":16,"y":11},{"x":18,"y":51},{"x":17,"y":43},{"x":18.3,"y":18},{"x":20.2,"y":40},{"x":24.8,"y":95},{"x":25,"y":31},{"x":24.8,"y":23},{"x":29,"y":52},{"x":31.7,"y":83},{"x":41.5,"y":71},{"x":48.5,"y":64},{"x":50.4,"y":52},{"x":52.3,"y":46},{"x":53.5,"y":36},{"x":56.7,"y":49},{"x":58.6,"y":55},{"x":59.2,"y":55},{"x":64.8,"y":82},{"x":78,"y":80},{"x":73.3,"y":23},{"x":36.9,"y":27},{"x":42,"y":26},{"x":36.3,"y":14},{"x":54.6,"y":14},{"x":61.5,"y":18},{"x":59,"y":6},{"x":60.4,"y":8},{"x":70.2,"y":11},{"x":78.8,"y":40},{"x":-8.5,"y":303},{"x":1.5,"y":379},{"x":0.8,"y":354},{"x":-3,"y":487},{"x":-3.6,"y":492},{"x":-4.1,"y":488},{"x":4.4,"y":299},{"x":5.6,"y":276},{"x":7,"y":258},{"x":8,"y":234},{"x":11.3,"y":222},{"x":17,"y":187}
]},
"layer":[
{"data":{"name":"pts"},
 "mark":{"type":"square","size":7,"color":"#111","opacity":1,"clip":true},
 "encoding":{
  "x":{"field":"x","type":"quantitative","scale":{"domain":[-30,80],"nice":false,"zero":false},
   "axis":{"orient":"bottom","values":[-20,0,20,40,60,80],"ticks":true,"tickSize":9,"offset":-9,"labelPadding":8,"labelExpr":"replace(datum.label, '\u2212', '-')","title":"Position, ct (m)","titleX":282,"titleY":62,"titleBaseline":"alphabetic","titleAlign":"center"}},
  "y":{"field":"y","type":"quantitative","scale":{"domain":[0,500],"nice":false,"zero":false},
   "axis":{"orient":"left","values":[0,100,200,300,400,500],"ticks":true,"tickSize":10,"offset":-10,"labelPadding":10,"title":"Momentum, P (MeV/c)","titleFontSize":27,"titleX":-72,"titleY":220,"titleAngle":270,"titleBaseline":"alphabetic","titleAlign":"center"}}
 }},
{"data":{"values":[{}]},
 "mark":{"type":"text","text":"Buncher Exit","align":"left","baseline":"alphabetic","font":"Liberation Sans","fontSize":52,"color":"#3b5467"},
 "encoding":{"x":{"datum":15.8,"type":"quantitative","axis":null},"y":{"datum":423.5,"type":"quantitative","axis":null}}},
{"data":{"values":[{}]},
 "mark":{"type":"text","text":"(z=113 m)","align":"left","baseline":"alphabetic","font":"Liberation Sans","fontSize":52,"color":"#3b5467"},
 "encoding":{"x":{"datum":15.8,"type":"quantitative","axis":null},"y":{"datum":348.4,"type":"quantitative","axis":null}}}
],
"resolve":{"axis":{"x":"independent","y":"independent"}}
}
